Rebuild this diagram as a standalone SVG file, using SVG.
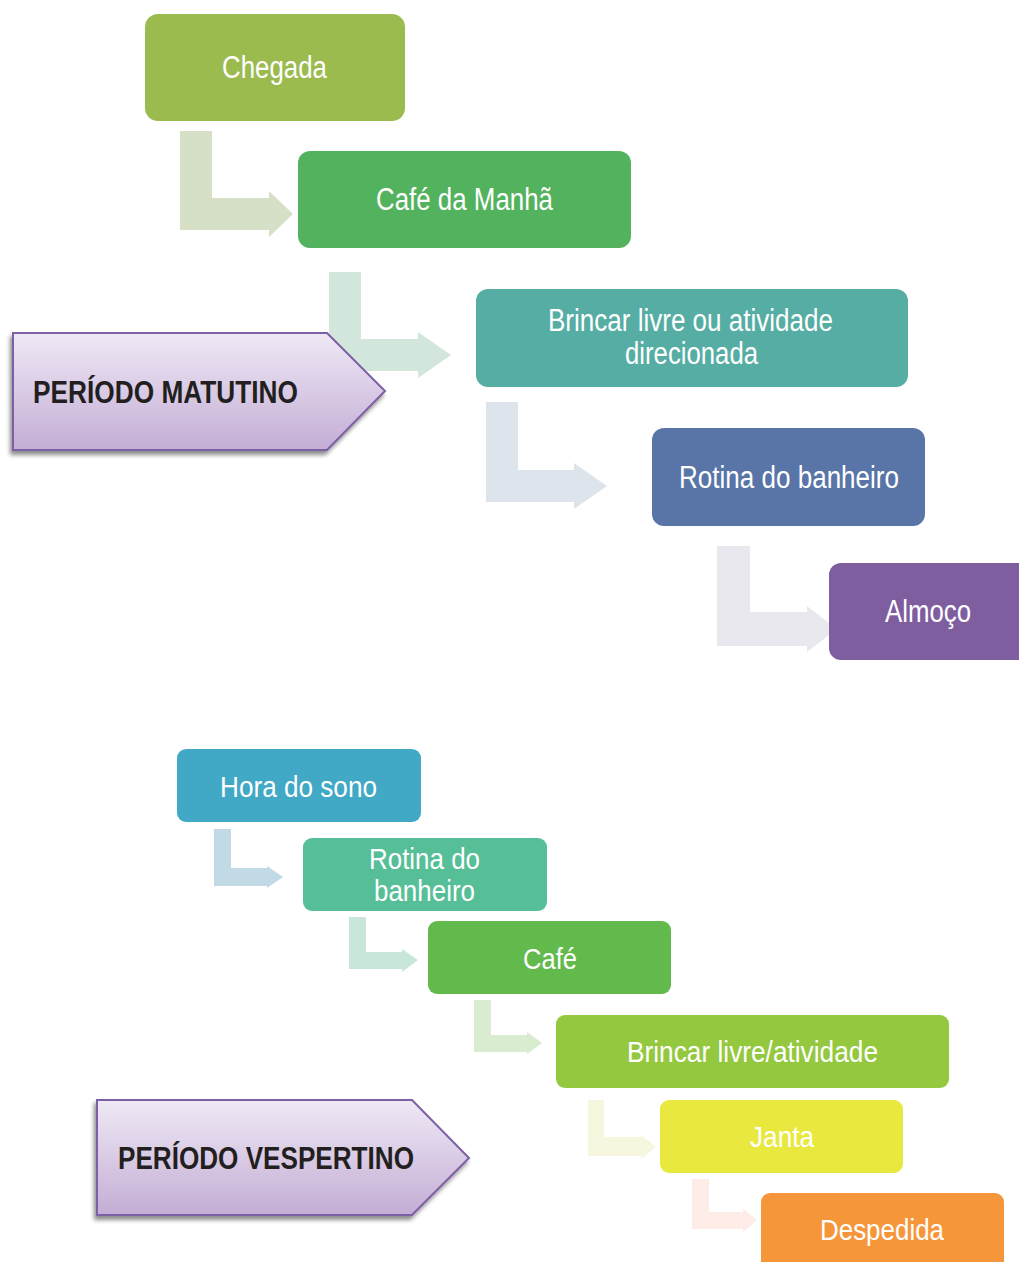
<svg xmlns="http://www.w3.org/2000/svg" width="1019" height="1262" viewBox="0 0 1019 1262">
<defs>
<linearGradient id="pg" x1="0" y1="0" x2="0" y2="1">
<stop offset="0" stop-color="#EFE9F5"/>
<stop offset="1" stop-color="#C3ADD5"/>
</linearGradient>
<filter id="sh" x="-10%" y="-10%" width="120%" height="130%">
<feDropShadow dx="-2" dy="4" stdDeviation="2" flood-color="#000" flood-opacity="0.45"/>
</filter>
</defs>
<style>
.lbl{font-family:"Liberation Sans",Arial,sans-serif;fill:#ffffff}
.big{font-size:31px}
.sm{font-size:29px}
.per{font-family:"Liberation Sans",Arial,sans-serif;font-weight:bold;font-size:31px;fill:#231F20}
.pent{fill:url(#pg);stroke:#7D5FA5;stroke-width:2;filter:url(#sh)}
</style>
<rect width="1019" height="1262" fill="#ffffff"/>
<g id="connectors">
<path d="M180,131 H212 V198 H269 V191 L293,214 L269,237 V230 H180 Z" fill="#D6E0C6"/>
<path d="M329,272 H361 V339 H418 V332 L451,355 L418,378 V371 H329 Z" fill="#D3E6DB"/>
<path d="M486,402 H518 V470 H574 V463 L607,486 L574,509 V502 H486 Z" fill="#DEE4EB"/>
<path d="M717,546 H750 V612 H807 V606 L837,629 L807,652 V646 H717 Z" fill="#EAE8EF"/>
<path d="M214,829 H231 V868 H267 V866 L283,877 L267,888 V886 H214 Z" fill="#C2DAE5"/>
<path d="M349,917 H366 V952 H402 V949 L418,960 L402,972 V969 H349 Z" fill="#C9E6DA"/>
<path d="M474,1000 H491 V1035 H527 V1032 L542,1043 L527,1054 V1052 H474 Z" fill="#D9ECD0"/>
<path d="M588,1100 H604 V1137 H641 V1135 L656,1147 L641,1159 V1156 H588 Z" fill="#F6F7DE"/>
<path d="M692,1179 H709 V1212 H743 V1209 L757,1220 L743,1232 V1229 H692 Z" fill="#FDEDE6"/>
</g>
<g id="periodo-matutino">
<path class="pent" d="M13,333 H327 L385,391 L327,450 H13 Z"/>
<text class="per" x="33" y="403" textLength="265" lengthAdjust="spacingAndGlyphs">PERÍODO MATUTINO</text>
</g>
<g id="periodo-vespertino">
<path class="pent" d="M97,1100 H412 L469,1158 L412,1215 H97 Z"/>
<text class="per" x="118" y="1169" textLength="296" lengthAdjust="spacingAndGlyphs">PERÍODO VESPERTINO</text>
</g>
<g id="chegada">
<rect x="145" y="14" width="260" height="107" rx="13" fill="#9BBB4F"/>
<text class="lbl big" x="222" y="78" textLength="105" lengthAdjust="spacingAndGlyphs">Chegada</text>
</g>
<g id="cafe-da-manha">
<rect x="298" y="151" width="333" height="97" rx="12" fill="#53B25D"/>
<text class="lbl big" x="376" y="210" textLength="177" lengthAdjust="spacingAndGlyphs">Café da Manhã</text>
</g>
<g id="brincar-livre-ou-atividade">
<rect x="476" y="289" width="432" height="98" rx="12" fill="#55ADA4"/>
<text class="lbl big" x="548" y="331" textLength="285" lengthAdjust="spacingAndGlyphs">Brincar livre ou atividade</text>
<text class="lbl big" x="625" y="364" textLength="133" lengthAdjust="spacingAndGlyphs">direcionada</text>
</g>
<g id="rotina-do-banheiro-1">
<rect x="652" y="428" width="273" height="98" rx="12" fill="#5975A7"/>
<text class="lbl big" x="679" y="488" textLength="220" lengthAdjust="spacingAndGlyphs">Rotina do banheiro</text>
</g>
<g id="almoco">
<rect x="829" y="563" width="210" height="97" rx="12" fill="#7E5E9F"/>
<text class="lbl big" x="885" y="622" textLength="86" lengthAdjust="spacingAndGlyphs">Almoço</text>
</g>
<g id="hora-do-sono">
<rect x="177" y="749" width="244" height="73" rx="9" fill="#41A8C5"/>
<text class="lbl sm" x="220" y="797" textLength="157" lengthAdjust="spacingAndGlyphs">Hora do sono</text>
</g>
<g id="rotina-do-banheiro-2">
<rect x="303" y="838" width="244" height="73" rx="9" fill="#56BF97"/>
<text class="lbl sm" x="369" y="869" textLength="111" lengthAdjust="spacingAndGlyphs">Rotina do</text>
<text class="lbl sm" x="374" y="901" textLength="101" lengthAdjust="spacingAndGlyphs">banheiro</text>
</g>
<g id="cafe">
<rect x="428" y="921" width="243" height="73" rx="9" fill="#62B94C"/>
<text class="lbl sm" x="523" y="969" textLength="54" lengthAdjust="spacingAndGlyphs">Café</text>
</g>
<g id="brincar-livre-atividade">
<rect x="556" y="1015" width="393" height="73" rx="9" fill="#93C83F"/>
<text class="lbl sm" x="627" y="1062" textLength="251" lengthAdjust="spacingAndGlyphs">Brincar livre/atividade</text>
</g>
<g id="janta">
<rect x="660" y="1100" width="243" height="73" rx="9" fill="#E9E83F"/>
<text class="lbl sm" x="750" y="1147" textLength="64" lengthAdjust="spacingAndGlyphs">Janta</text>
</g>
<g id="despedida">
<rect x="761" y="1193" width="243" height="90" rx="9" fill="#F6963A"/>
<text class="lbl sm" x="820" y="1240" textLength="124" lengthAdjust="spacingAndGlyphs">Despedida</text>
</g>
</svg>
